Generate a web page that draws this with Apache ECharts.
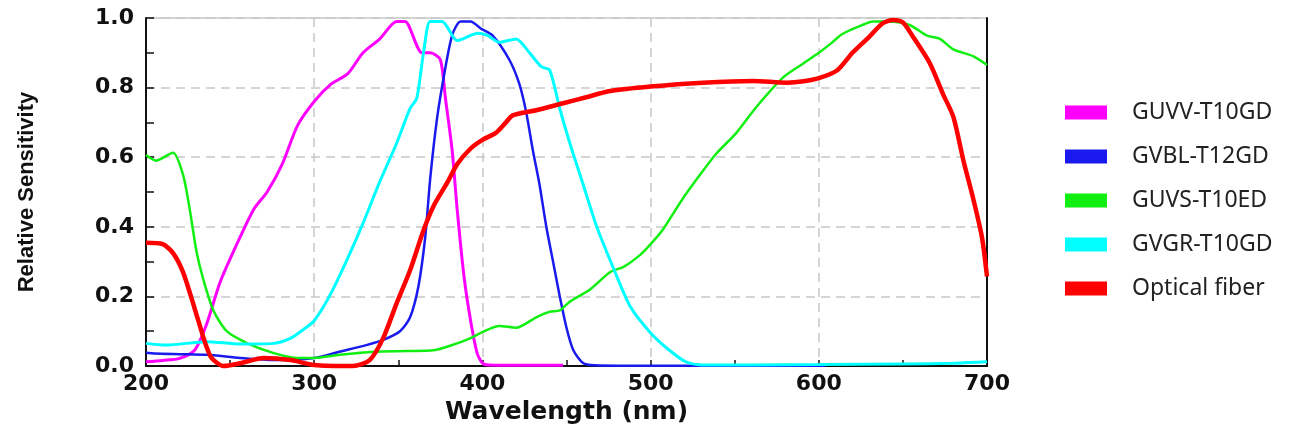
<!DOCTYPE html>
<html>
<head>
<meta charset="utf-8">
<script src="https://cdn.jsdelivr.net/npm/echarts@6/dist/echarts.min.js"></script>
<style>html,body{margin:0;padding:0;background:#fff;}#c{width:1302px;height:434px;}</style>
</head>
<body>
<div id="c"></div>
<script>
const seriesNames = ['GUVV-T10GD', 'GVBL-T12GD', 'GUVS-T10ED', 'GVGR-T10GD', 'Optical fiber'];

const guvvX = [200,210,220,229,236,244,254,264,272,281,290,300,310,320,329,339,349,354,364,369,375,378,382,385,389,393,397,401,410,430,448];
const guvvY = [0.012,0.016,0.022,0.046,0.12,0.24,0.35,0.45,0.50,0.58,0.69,0.76,0.81,0.84,0.90,0.94,0.99,0.99,0.90,0.90,0.88,0.77,0.62,0.45,0.26,0.13,0.035,0.005,0.002,0.002,0.002];

const gvblX = [200,205,220,236,256,276,300,315,331,341,351,357,362,366,369,373,377,382,387,393,399,406,416,422,426,430,434,438,442,446,450,454,460,467,480,520,560,604];
const gvblY = [0.038,0.036,0.034,0.032,0.023,0.017,0.023,0.041,0.06,0.075,0.10,0.14,0.23,0.37,0.54,0.71,0.83,0.95,0.99,0.99,0.97,0.95,0.88,0.81,0.73,0.62,0.52,0.40,0.30,0.20,0.11,0.046,0.008,0.002,0.001,0.001,0.001,0.001];

const guvsX = [200,206,216,222,226,230,234,240,248,260,276,290,300,315,335,355,371,385,393,399,410,420,432,440,446,452,464,476,484,494,500,507,519,531,539,551,563,579,591,600,608,614,626,632,642,654,664,672,680,692,700];
const guvsY = [0.606,0.59,0.613,0.55,0.45,0.33,0.25,0.16,0.10,0.066,0.037,0.023,0.023,0.032,0.041,0.043,0.045,0.065,0.08,0.095,0.115,0.11,0.14,0.156,0.16,0.185,0.22,0.27,0.285,0.32,0.35,0.39,0.48,0.56,0.61,0.67,0.745,0.83,0.87,0.90,0.93,0.954,0.98,0.99,0.99,0.98,0.95,0.94,0.91,0.89,0.865];

const gvgrX = [200,212,236,256,276,286,295,300,309,319,329,339,349,357,361,365,369,376,385,393,397,403,410,420,428,435,440,446,452,460,468,478,488,500,511,521,531,560,600,650,680,700];
const gvgrY = [0.065,0.06,0.07,0.063,0.065,0.08,0.11,0.13,0.20,0.30,0.41,0.53,0.64,0.74,0.77,0.90,0.99,0.99,0.935,0.95,0.956,0.95,0.93,0.94,0.90,0.86,0.85,0.74,0.64,0.52,0.40,0.28,0.17,0.095,0.046,0.012,0.003,0.003,0.004,0.006,0.008,0.012];

const fiberX = [200,210,216,222,228,233,236,239,246,256,270,286,300,323,333,341,349,357,365,371,379,385,393,400,408,414,418,432,448,460,476,500,531,561,581,591,600,611,620,630,638,644,650,656,666,674,680,686,692,697,700];
const fiberY = [0.354,0.35,0.325,0.27,0.18,0.10,0.055,0.023,0.0,0.008,0.023,0.017,0.003,0.0,0.017,0.08,0.18,0.275,0.39,0.46,0.526,0.58,0.625,0.65,0.67,0.70,0.72,0.735,0.755,0.77,0.79,0.803,0.814,0.819,0.814,0.818,0.827,0.85,0.90,0.946,0.985,0.994,0.987,0.946,0.87,0.78,0.716,0.59,0.477,0.37,0.257];

const xTicks = { min: 200, max: 700, interval: 100 };
const yTicks = { min: 0, max: 1, interval: 0.2 };

function zip(xs, ys) { return xs.map((x, i) => [x, ys[i]]); }

const colors = ['#ff00ff', '#1a1aee', '#11ee11', '#00ffff', '#ff0000'];
const widths = [3, 2.5, 2.5, 3, 4.5];
const datasets = [zip(guvvX, guvvY), zip(gvblX, gvblY), zip(guvsX, guvsY), zip(gvgrX, gvgrY), zip(fiberX, fiberY)];

const chart = echarts.init(document.getElementById('c'));
const boldFont = "'DejaVu Sans', sans-serif";
chart.setOption({
  animation: false,
  backgroundColor: '#fff',
  grid: { left: 146, right: 315, top: 18, bottom: 68, show: true, borderColor: '#aaa', borderWidth: 1 },
  legend: {
    orient: 'vertical', left: 1060, top: 96,
    icon: 'rect', itemWidth: 42, itemHeight: 14, itemGap: 21,
    data: seriesNames,
    textStyle: { fontFamily: "'Noto Sans', sans-serif", fontSize: 23, color: '#222', padding: [0, 0, 0, 20] }
  },
  xAxis: {
    type: 'value', min: xTicks.min, max: xTicks.max, interval: xTicks.interval,
    name: 'Wavelength (nm)', nameLocation: 'middle', nameGap: 33,
    nameTextStyle: { fontFamily: boldFont, fontWeight: 'bold', fontSize: 25, color: '#111' },
    axisLine: { show: true, onZero: false, lineStyle: { color: '#111', width: 2 } },
    axisTick: { show: true, inside: true, length: 6, lineStyle: { color: '#111', width: 1.5 } },
    minorTick: { show: true, splitNumber: 2, length: 6, lineStyle: { color: '#111', width: 1.5 } },
    axisLabel: { fontFamily: boldFont, fontWeight: 'bold', fontSize: 22, color: '#111', margin: 7 },
    splitLine: { show: true, lineStyle: { color: '#c8c8c8', type: [9, 6], width: 1.5 } }
  },
  yAxis: [{
    type: 'value', min: yTicks.min, max: yTicks.max, interval: yTicks.interval,
    name: 'Relative Sensitivity', nameLocation: 'middle', nameGap: 108, nameRotate: 90,
    nameTextStyle: { fontFamily: "'Liberation Sans Narrow', 'Liberation Sans', sans-serif", fontWeight: 'bold', fontSize: 22, color: '#111' },
    axisLine: { show: true, onZero: false, lineStyle: { color: '#111', width: 2 } },
    axisTick: { show: true, inside: true, length: 8, lineStyle: { color: '#111', width: 1.5 } },
    minorTick: { show: true, splitNumber: 2, length: 8, lineStyle: { color: '#111', width: 1.5 } },
    axisLabel: { fontFamily: boldFont, fontWeight: 'bold', fontSize: 22, color: '#111', margin: 12, formatter: v => v.toFixed(1) },
    splitLine: { show: true, lineStyle: { color: '#c8c8c8', type: [9, 6], width: 1.5 } }
  }, {
    type: 'value', min: yTicks.min, max: yTicks.max, interval: yTicks.interval, position: 'right',
    axisLine: { show: true, lineStyle: { color: '#111', width: 2 } },
    axisTick: { show: false }, axisLabel: { show: false }, splitLine: { show: false }
  }],
  series: seriesNames.map((name, i) => ({
    name: name, type: 'line', data: datasets[i], showSymbol: false, symbol: 'none',
    smooth: 0.25, clip: false, color: colors[i],
    lineStyle: { color: colors[i], width: widths[i] },
    itemStyle: { color: colors[i] }
  }))
});
</script>
</body>
</html>
